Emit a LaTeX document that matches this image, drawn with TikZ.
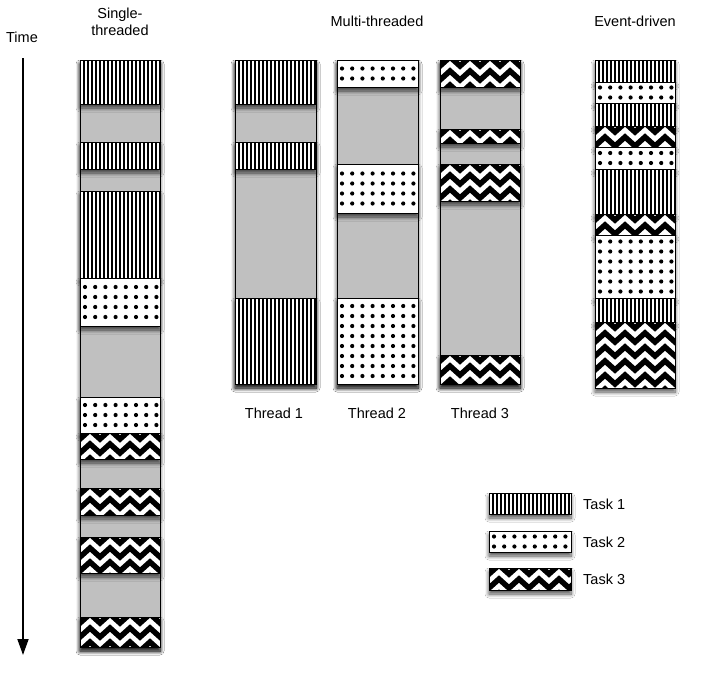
\documentclass[tikz,border=0pt]{standalone}
\usepackage{fontspec}
\setmainfont{Liberation Sans}
\usetikzlibrary{shadows.blur,arrows.meta}
\definecolor{idle}{RGB}{192,192,192}
\tikzset{
  shad/.style={blur shadow={shadow xshift=0pt, shadow yshift=-4pt, shadow blur radius=4pt, shadow blur steps=8, shadow opacity=70}},
  segline/.style={draw=black, line width=0.9pt},
  lbl/.style={font=\fontsize{14.5}{17}\selectfont, inner sep=0pt},
  zigline/.style={line width=5.5pt, line join=miter, draw=black},
  timearrow/.style={line width=1.8pt, -{Triangle[length=16pt,width=11pt]}},
}
\newcommand\idlebg[4]{\fill[idle,shad] (#1,#2) rectangle (#3,#4);}
\newcommand\outline[4]{\draw[segline] (#1,#2) rectangle (#3,#4);}
\newcommand\stripes[4]{%
  \fill[white,shad] (#1,#2) rectangle (#3,#4);
  \begin{scope}
    \clip (#1,#2) rectangle (#3,#4);
    \foreach \k in {0,...,19} \fill[black] ({#1+3+\k*4},#2) rectangle ++(1.8,{#4-#2});
  \end{scope}
  \draw[segline] (#1,#2) rectangle (#3,#4);}
\newcommand\taskdots[4]{%
  \fill[white,shad] (#1,#2) rectangle (#3,#4);
  \pgfmathsetmacro\hh{#4-#2}
  \pgfmathtruncatemacro\nr{max(1,floor(\hh/10))}
  \pgfmathsetmacro\ys{#2+(\hh-(\nr-1)*10)/2}
  \begin{scope}
    \clip (#1,#2) rectangle (#3,#4);
    \foreach \i in {1,...,\nr}{\foreach \j in {0,...,7}{\fill[black] ({#1+5+\j*10.2},{\ys+(\i-1)*10}) circle (2.1);}}
  \end{scope}
  \draw[segline] (#1,#2) rectangle (#3,#4);}
\newcommand\zig[4]{%
  \fill[white,shad] (#1,#2) rectangle (#3,#4);
  \pgfmathtruncatemacro\nb{ceil((#4-#2)/14)+1}
  \begin{scope}
    \clip (#1,#2) rectangle (#3,#4);
    \foreach \b in {0,...,\nb}{
      \draw[zigline] ({#1-10},{#2-3+\b*14}) \foreach \k in {0,...,9}{ -- ({#1+\k*10},{#2-3+\b*14+9*mod(\k+1,2)}) };
    }
  \end{scope}
  \draw[segline] (#1,#2) rectangle (#3,#4);}
\begin{document}
\begin{tikzpicture}[x=1pt,y=-1pt]
\useasboundingbox (0,0) rectangle (704,672);
\fill[white] (0,0) rectangle (704,672);

% labels
\node[lbl] (time) at (22,37) {Time};
\node[lbl, align=center] (single) at (120,22) {Single-\\threaded};
\node[lbl] (multi) at (377,21) {Multi-threaded};
\node[lbl] (event) at (635,21) {Event-driven};
\node[lbl] (th1) at (274,413) {Thread 1};
\node[lbl] (th2) at (377,413) {Thread 2};
\node[lbl] (th3) at (480,413) {Thread 3};

% time arrow
\coordinate (t0) at (23,58);
\coordinate (t1) at (23,655);
\draw[timearrow] (t0) -- (t1);

% single-threaded
\idlebg{80}{60}{160}{647}
\stripes{80}{60}{160}{104}
\stripes{80}{142}{160}{169}
\stripes{80}{191}{160}{278}
\taskdots{80}{278}{160}{326}
\taskdots{80}{397}{160}{433}
\zig{80}{433}{160}{459}
\zig{80}{488}{160}{515}
\zig{80}{537}{160}{573}
\zig{80}{617}{160}{647}
\outline{80}{60}{160}{647}

% thread 1
\idlebg{235}{60}{316}{384}
\stripes{235}{60}{316}{104}
\stripes{235}{142}{316}{169}
\stripes{235}{298}{316}{384}
\outline{235}{60}{316}{384}

% thread 2
\idlebg{337}{60}{418}{384}
\taskdots{337}{60}{418}{87}
\taskdots{337}{164}{418}{213}
\taskdots{337}{298}{418}{384}
\outline{337}{60}{418}{384}

% thread 3
\idlebg{440}{60}{520}{384}
\zig{440}{60}{520}{87}
\zig{440}{129}{520}{143}
\zig{440}{164}{520}{201}
\zig{440}{355}{520}{384}
\outline{440}{60}{520}{384}

% event-driven
\stripes{595}{60}{675}{82}
\taskdots{595}{82}{675}{103}
\stripes{595}{103}{675}{126}
\zig{595}{126}{675}{147}
\taskdots{595}{147}{675}{169}
\stripes{595}{169}{675}{214}
\zig{595}{214}{675}{235}
\taskdots{595}{235}{675}{298}
\stripes{595}{298}{675}{322}
\zig{595}{322}{675}{388}
\outline{595}{60}{675}{388}

% legend
\stripes{489}{493}{571}{514}
\taskdots{489}{531}{571}{552}
\zig{489}{568}{571}{590}
\node[lbl, anchor=west] (k1) at (583,504) {Task 1};
\node[lbl, anchor=west] (k2) at (583,542) {Task 2};
\node[lbl, anchor=west] (k3) at (583,579) {Task 3};
\end{tikzpicture}
\end{document}
